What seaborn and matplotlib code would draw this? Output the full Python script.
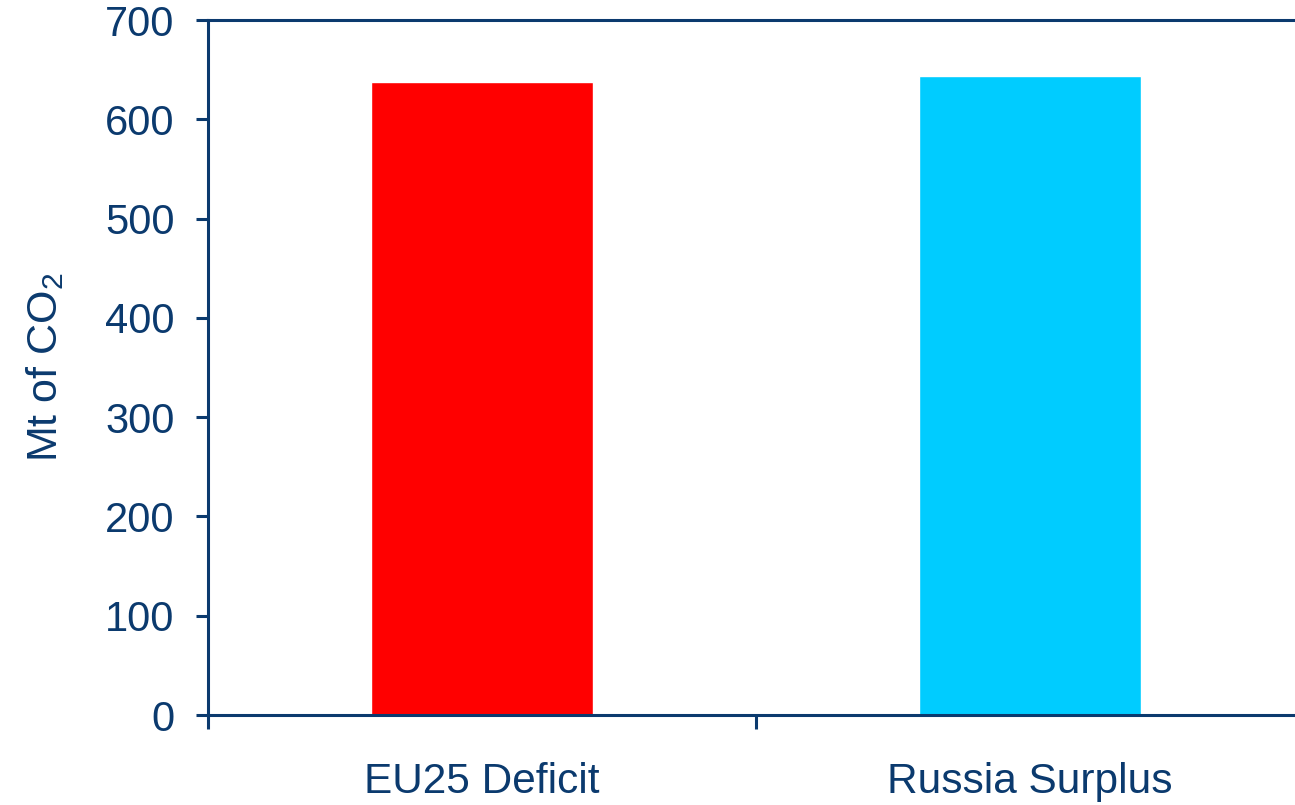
import matplotlib
matplotlib.use("Agg")
import matplotlib.pyplot as plt
import seaborn as sns
import pandas as pd
from matplotlib.ticker import FixedLocator

categories = ["EU25 Deficit", "Russia Surplus"]
values = [638, 644]
colors = ["#FF0000", "#00CCFF"]
yticks = [0, 100, 200, 300, 400, 500, 600, 700]

sns.set_theme(style="white")
plt.rcParams["font.family"] = ["Liberation Sans", "DejaVu Sans"]
plt.rcParams["mathtext.fontset"] = "custom"
plt.rcParams["mathtext.rm"] = "Liberation Sans"
plt.rcParams["mathtext.default"] = "regular"

navy = "#0B3A6E"
df = pd.DataFrame({"cat": categories, "val": values})

fig = plt.figure(figsize=(12.95, 8.05), dpi=100)
ax = fig.add_axes([208/1295, 90/805, 1096/1295, 695/805])
sns.barplot(data=df, x="cat", y="val", hue="cat", palette=colors,
            width=0.405, legend=False, ax=ax, saturation=1)

ax.set_xlim(-0.5, 1.5)
ax.set_ylim(0, 700)
ax.set_yticks(yticks)
ax.set_yticklabels([str(v) for v in yticks])
ax.set_xlabel("")
ax.set_ylabel("Mt of CO$_2$", fontsize=31, color=navy, labelpad=28)

for s in ["left", "top", "bottom"]:
    ax.spines[s].set_visible(True)
    ax.spines[s].set_color(navy)
    ax.spines[s].set_linewidth(2.2)
ax.spines["right"].set_visible(False)

ax.tick_params(axis="y", which="major", direction="out", length=9, width=2.2,
               color=navy, labelcolor=navy, labelsize=30, pad=15, left=True)
ax.tick_params(axis="x", which="major", length=0, labelcolor=navy,
               labelsize=30.5, pad=34)
ax.xaxis.set_minor_locator(FixedLocator([-0.5, 0.5, 1.5]))
ax.tick_params(axis="x", which="minor", direction="out", length=10, width=2.2,
               color=navy, bottom=True)
ax.grid(False)

fig.savefig("out.png", dpi=100, facecolor="white")
